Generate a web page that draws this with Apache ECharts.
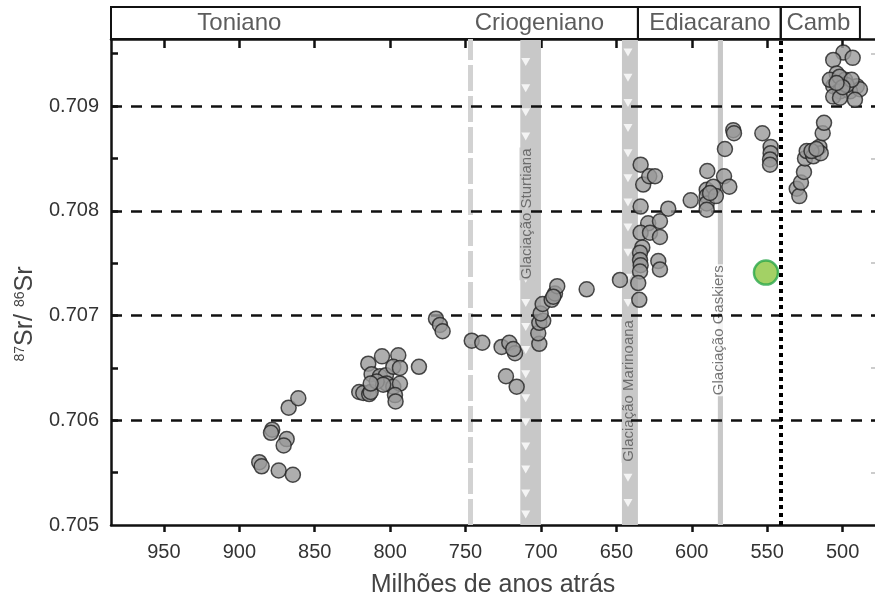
<!DOCTYPE html>
<html>
<head>
<meta charset="utf-8">
<title>87Sr/86Sr</title>
<script src="https://cdn.jsdelivr.net/npm/echarts@6/dist/echarts.min.js"></script>
<style>
  html, body { margin: 0; padding: 0; background: #fff; }
  #grafico { width: 875px; height: 596px; }
</style>
</head>
<body>
<div id="grafico"></div>
<script>
// eixos
var X_MIN = 478.5, X_MAX = 985.1;
var Y_MIN = 0.705, Y_MAX = 0.70964;
var ticksX = [950, 900, 850, 800, 750, 700, 650, 600, 550, 500];
var ticksY = [0.705, 0.706, 0.707, 0.708, 0.709];
var ticksYMenores = [0.7055, 0.706, 0.7065, 0.707, 0.7075, 0.708, 0.7085, 0.709, 0.7095];
var linhasTracejadas = [0.706, 0.707, 0.708, 0.709];

// períodos (cabeçalho)
var periodos = [
    [900, 0.5, 'Toniano'],
    [701, 0.5, 'Criogeniano'],
    [588, 0.5, 'Ediacarano'],
    [516, 0.5, 'Camb']
];
var caixasPeriodos = [[985.1, 635.7], [635.7, 541], [541, 488.5]];

// glaciações
var faixasGlaciacao = [[713.7, 700], [646.3, 635.7], [582.7, 579.3]];
var rotulosGlaciacao = [
    [709.3, 0.70797, 'Glaciação Sturtiana', '#c8c8c8'],
    [641.6, 0.70628, 'Glaciação Marinoana', '#c8c8c8'],
    [582, 0.70686, 'Glaciação Gaskiers', '#ffffff']
];
var linhaTracejadaCinza = 747;
var limiteCambriano = 541;

// triângulos de gelo
var geloSturtiano = [0.70942, 0.70917, 0.70894, 0.70871, 0.70849, 0.70826, 0.70804, 0.70781, 0.70758,
    0.70735, 0.70712, 0.70689, 0.70667, 0.70644, 0.70621, 0.70598, 0.70575, 0.70553, 0.70530, 0.70510];
var geloMarinoano = [0.70951, 0.70927, 0.70903, 0.70879, 0.70855, 0.70831, 0.70808, 0.70784, 0.70760,
    0.70736, 0.70712, 0.70688, 0.70664, 0.70640, 0.70617, 0.70593, 0.70569, 0.70545, 0.70521];

// amostras [idade Ma, 87Sr/86Sr]
var amostras = [
    [886.8, 0.70560], [885.2, 0.70556], [873.9, 0.70552], [864.5, 0.70548], [878.2, 0.70591],
    [879.0, 0.70588], [868.6, 0.70582], [870.6, 0.70576], [867.3, 0.70612], [860.9, 0.70621],
    [820.5, 0.70627], [817.8, 0.70626], [813.9, 0.70625], [812.9, 0.70627], [814.5, 0.70654],
    [805.4, 0.70661], [794.6, 0.70662], [812.3, 0.70644], [806.8, 0.70642], [802.8, 0.70643],
    [797.9, 0.70651], [793.5, 0.70650], [802.3, 0.70635], [797.9, 0.70632], [793.5, 0.70635],
    [796.8, 0.70624], [796.4, 0.70618], [780.9, 0.70651], [808.9, 0.70637], [804.6, 0.70634],
    [812.9, 0.70635],
    [769.6, 0.70697], [767.0, 0.70691], [765.2, 0.70685], [745.9, 0.70676], [738.9, 0.70674],
    [726.1, 0.70670], [721.0, 0.70674], [717.2, 0.70664], [718.4, 0.70668], [723.2, 0.70642],
    [716.1, 0.70632],
    [701.1, 0.70673], [701.8, 0.70683], [701.1, 0.70693], [698.5, 0.70695], [700.2, 0.70702],
    [698.9, 0.70711], [692.9, 0.70715], [690.7, 0.70721], [689.2, 0.70728], [691.8, 0.70718],
    [669.7, 0.70725], [647.6, 0.70734],
    [633.9, 0.70844], [632.2, 0.70825], [628.2, 0.70833], [624.4, 0.70833], [633.9, 0.70804],
    [615.6, 0.70802], [628.9, 0.70788], [621.1, 0.70790], [633.9, 0.70779], [627.7, 0.70779],
    [621.1, 0.70775], [632.8, 0.70765], [634.3, 0.70760], [634.3, 0.70753], [633.9, 0.70748],
    [634.3, 0.70742], [622.2, 0.70752], [621.1, 0.70744], [635.5, 0.70731], [634.8, 0.70715],
    [600.7, 0.70810], [589.7, 0.70838], [590.1, 0.70820], [590.1, 0.70814], [590.1, 0.70807],
    [590.1, 0.70801], [585.7, 0.70823], [584.0, 0.70814], [587.9, 0.70817], [578.6, 0.70833],
    [575.1, 0.70823], [578.0, 0.70859], [572.5, 0.70877], [572.0, 0.70874], [553.2, 0.70874],
    [547.7, 0.70861], [547.7, 0.70855], [548.1, 0.70849], [548.1, 0.70844],
    [530.4, 0.70821], [528.7, 0.70814], [527.6, 0.70827], [525.6, 0.70837], [524.9, 0.70850],
    [523.8, 0.70857], [519.4, 0.70852], [515.4, 0.70861], [514.5, 0.70855], [513.2, 0.70874],
    [512.3, 0.70884], [520.6, 0.70857], [517.3, 0.70859],
    [499.5, 0.70951], [506.2, 0.70944], [493.3, 0.70946], [503.9, 0.70931], [498.4, 0.70925],
    [490.6, 0.70919], [506.2, 0.70919], [501.7, 0.70914], [495.1, 0.70914], [488.5, 0.70916],
    [506.2, 0.70909], [501.7, 0.70908], [491.8, 0.70906], [497.3, 0.70920], [508.4, 0.70925],
    [502.0, 0.70928], [494.0, 0.70925], [500.0, 0.70918], [504.0, 0.70922]
];
var amostraDestaque = [[550.8, 0.70741]];

var corEixo = '#111';
var corTexto = '#333';

var grafico = echarts.init(document.getElementById('grafico'));

var opcao = {
    animation: false,
    textStyle: { fontFamily: 'Liberation Sans, Arial, sans-serif' },
    grid: [
        { left: 111, right: 0, top: 39, bottom: 71, outerBoundsMode: 'none' },
        { left: 111, right: 0, top: 7, height: 32, outerBoundsMode: 'none' }
    ],
    xAxis: [
        {
            gridIndex: 0, type: 'value', inverse: true, min: X_MIN, max: X_MAX,
            name: 'Milhões de anos atrás', nameLocation: 'middle', nameGap: 48,
            nameTextStyle: { fontSize: 25, color: '#444' },
            axisLine: { lineStyle: { color: corEixo, width: 2.5 } },
            axisTick: { customValues: ticksX, length: 7, lineStyle: { color: corEixo, width: 2.5 } },
            axisLabel: { customValues: ticksX, fontSize: 20, color: corTexto, margin: 17 },
            splitLine: { show: false }
        },
        {
            gridIndex: 0, type: 'value', position: 'top', inverse: true, min: X_MIN, max: X_MAX,
            axisLine: { lineStyle: { color: corEixo, width: 2.5 } },
            axisTick: { customValues: ticksX, inside: true, length: 9, lineStyle: { color: corEixo, width: 2.5 } },
            axisLabel: { show: false },
            splitLine: { show: false }
        },
        {
            gridIndex: 1, type: 'value', inverse: true, min: X_MIN, max: X_MAX, show: false
        }
    ],
    yAxis: [
        {
            gridIndex: 0, type: 'value', min: Y_MIN, max: Y_MAX,
            name: '{s|87}Sr/ {s|86}Sr', nameLocation: 'middle', nameGap: 68, nameRotate: 90,
            nameTextStyle: {
                fontSize: 25, color: '#444', padding: [0, 64, 0, 0],
                rich: { s: { fontSize: 14, color: '#444', padding: [0, 0, 10, 0] } }
            },
            axisLine: { lineStyle: { color: corEixo, width: 2.5 } },
            axisTick: { customValues: ticksYMenores, inside: true, length: 7, lineStyle: { color: corEixo, width: 2.5 } },
            axisLabel: {
                customValues: ticksY, fontSize: 20, color: corTexto, margin: 12,
                formatter: function (v) { return v.toFixed(3); }
            },
            splitLine: { show: false }
        },
        {
            gridIndex: 0, type: 'value', position: 'right', min: Y_MIN, max: Y_MAX,
            axisLine: { show: false },
            axisTick: { customValues: ticksYMenores, inside: true, length: 4, lineStyle: { color: '#ccc', width: 2 } },
            axisLabel: { show: false },
            splitLine: { show: false }
        },
        { gridIndex: 1, type: 'value', min: 0, max: 1, show: false }
    ],
    series: [
        // faixas das glaciações
        {
            type: 'line', xAxisIndex: 0, yAxisIndex: 0, data: [], z: 1, silent: true,
            markArea: {
                silent: true,
                itemStyle: { color: '#c8c8c8' },
                data: faixasGlaciacao.map(function (f) { return [{ xAxis: f[0] }, { xAxis: f[1] }]; })
            },
            markLine: {
                silent: true, symbol: 'none', label: { show: false },
                lineStyle: { color: '#d2d2d2', width: 5, type: [26, 5] },
                data: [{ xAxis: linhaTracejadaCinza }]
            }
        },
        // triângulos de gelo + linhas horizontais tracejadas
        {
            type: 'scatter', xAxisIndex: 0, yAxisIndex: 0, z: 2, silent: true,
            symbol: 'triangle', symbolRotate: 180, symbolSize: [9, 8],
            itemStyle: { color: '#ffffff' },
            data: geloSturtiano.map(function (y) { return [710.1, y]; })
                .concat(geloMarinoano.map(function (y) { return [642.3, y]; })),
            markLine: {
                silent: true, symbol: 'none', label: { show: false },
                lineStyle: { color: '#111', width: 2.5, type: [11, 9] },
                data: linhasTracejadas.map(function (y) {
                    return [{ coord: [X_MAX, y] }, { coord: [X_MIN, y] }];
                })
            }
        },
        // limite Ediacarano/Cambriano
        {
            type: 'line', xAxisIndex: 0, yAxisIndex: 0, data: [], z: 3, silent: true,
            markLine: {
                silent: true, symbol: 'none', label: { show: false },
                lineStyle: { color: '#000', width: 4, type: [4, 4] },
                data: [{ xAxis: limiteCambriano }]
            }
        },
        // rótulos das glaciações
        {
            type: 'scatter', xAxisIndex: 0, yAxisIndex: 0, z: 4, silent: true, symbolSize: 0,
            data: rotulosGlaciacao.map(function (r) {
                return {
                    value: [r[0], r[1]],
                    label: {
                        show: true, position: 'inside', rotate: 90, formatter: r[2],
                        fontSize: 15, color: '#555', backgroundColor: r[3], padding: [0, 1]
                    }
                };
            })
        },
        // amostras
        {
            type: 'scatter', xAxisIndex: 0, yAxisIndex: 0, z: 5,
            symbolSize: 15,
            itemStyle: { color: '#9a9a9a', borderColor: '#222', borderWidth: 1.5 },
            data: amostras
        },
        {
            type: 'scatter', xAxisIndex: 0, yAxisIndex: 0, z: 6,
            symbolSize: 24,
            itemStyle: { color: '#8cc63f', borderColor: '#2aa84a', borderWidth: 2.5 },
            data: amostraDestaque
        },
        // cabeçalho dos períodos
        {
            type: 'scatter', xAxisIndex: 2, yAxisIndex: 2, z: 7, silent: true, symbolSize: 0,
            label: {
                show: true, position: 'inside', fontSize: 24, color: corTexto,
                formatter: function (p) { return p.data[2]; }
            },
            data: periodos,
            markArea: {
                silent: true,
                itemStyle: { color: 'rgba(0,0,0,0)', borderColor: '#111', borderWidth: 2 },
                data: caixasPeriodos.map(function (c) { return [{ xAxis: c[0] }, { xAxis: c[1] }]; })
            }
        }
    ]
};

grafico.setOption(opcao);
</script>
</body>
</html>
